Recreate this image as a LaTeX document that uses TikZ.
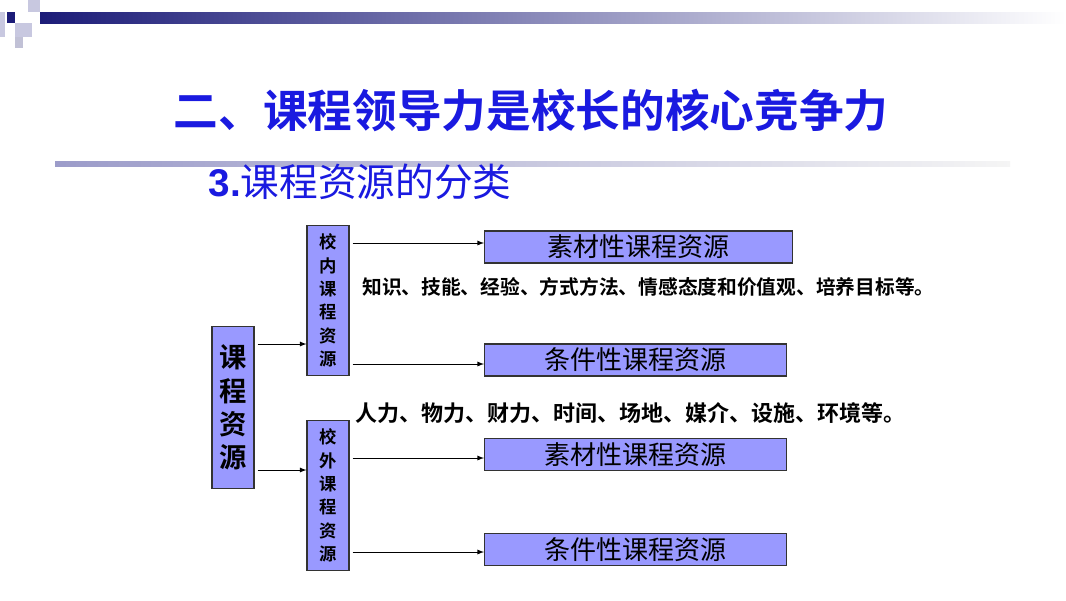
\documentclass[tikz,border=0pt]{standalone}
\usepackage{fontspec}
\newfontfamily\cjk{Noto Sans CJK SC}
\newfontfamily\cjkb{Noto Sans CJK SC Bold}
\setmainfont{Liberation Sans}
\begin{document}
\begin{tikzpicture}[x=0.75pt,y=-0.75pt,
  bx/.style={draw=black!80,line width=0.8pt,fill=boxc,inner sep=0pt},
  arr/.style={-latex,line width=0.7pt}]
\definecolor{boxc}{HTML}{9999FF}
\definecolor{navy}{HTML}{1C1C78}
\definecolor{tblue}{HTML}{1A1AE0}
\definecolor{lsq}{HTML}{C8C8E0}
\useasboundingbox (0,0) rectangle (1066,600);
\fill[white] (0,0) rectangle (1066,600);
% top bar
\shade[left color=navy,right color=white] (40,12) rectangle (1066,23);
\fill[lsq] (28,0) rectangle (40,12);
\fill[lsq] (15,23) rectangle (32,37);
\fill[lsq] (0,12) rectangle (5,37);
\fill[lsq!90!gray] (15,37) rectangle (23,48);
\fill[navy] (7,12) rectangle (15,23);
% gray line
\shade[left color=gray!70!blue!60,right color=gray!8] (55,161) rectangle (1010,166);
\node[font=\cjkb\fontsize{33.5}{33.5}\selectfont,text=tblue] (title) at (531,110) {二、课程领导力是校长的核心竞争力};
\node[font=\fontsize{29}{29}\selectfont,text=tblue,anchor=west] (sub) at (204,182) {\textbf{3.}{\cjk 课程资源的分类}};
% boxes
\node[bx,minimum width=31.5pt,minimum height=122pt,font=\cjkb\fontsize{20.5}{25}\selectfont,align=center] (main) at (233,407.5) {课\\程\\资\\源};
\node[bx,minimum width=31.5pt,minimum height=113pt,font=\cjkb\fontsize{13}{17.5}\selectfont,align=center] (in) at (328,300.5) {校\\内\\课\\程\\资\\源};
\node[bx,minimum width=31.5pt,minimum height=113pt,font=\cjkb\fontsize{13}{17.5}\selectfont,align=center] (out) at (328,495.5) {校\\外\\课\\程\\资\\源};
\tikzset{rb/.style={bx,anchor=west,minimum height=24pt,font=\cjk\fontsize{19.5}{19.5}\selectfont}}
\node[rb,minimum width=231pt] (r1) at (484,247) {素材性课程资源};
\node[rb,minimum width=226.5pt] (r2) at (484,360) {条件性课程资源};
\node[rb,minimum width=226.5pt] (r3) at (484,454.5) {素材性课程资源};
\node[rb,minimum width=226.5pt] (r4) at (484,549.5) {条件性课程资源};
\node[anchor=west,font=\cjkb\fontsize{14.8}{14.8}\selectfont,inner sep=0pt] (t1) at (362,287) {知识、技能、经验、方式方法、情感态度和价值观、培养目标等。};
\node[anchor=west,font=\cjkb\fontsize{16.5}{16.5}\selectfont,inner sep=0pt] (t2) at (355,413) {人力、物力、财力、时间、场地、媒介、设施、环境等。};
% arrows
\draw[arr] (main.east|-0,344) ++(3,0) -- (in.west|-0,344);
\draw[arr] (main.east|-0,470) ++(3,0) -- (out.west|-0,470);
\draw[arr] (in.east|-0,243) ++(3,0) -- (r1.west|-0,243);
\draw[arr] (in.east|-0,364) ++(3,0) -- (r2.west|-0,364);
\draw[arr] (out.east|-0,458) ++(3,0) -- (r3.west|-0,458);
\draw[arr] (out.east|-0,552) ++(3,0) -- (r4.west|-0,552);
\end{tikzpicture}
\end{document}
